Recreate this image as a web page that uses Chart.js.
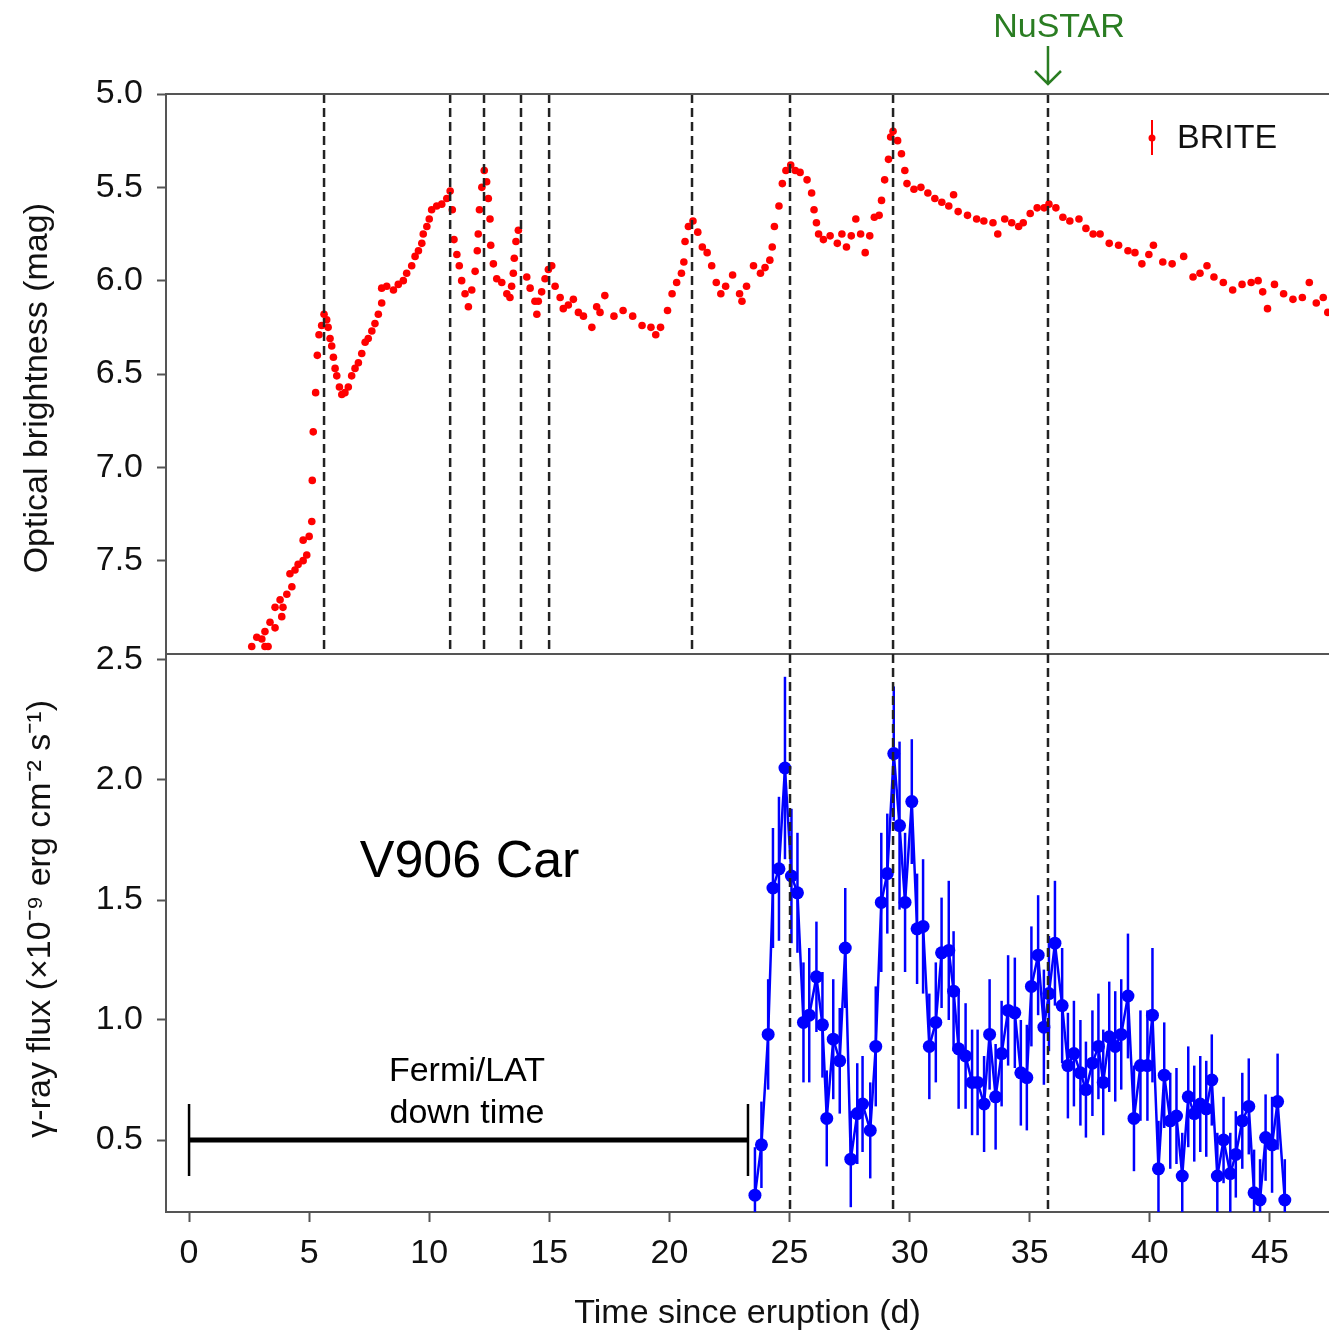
<!DOCTYPE html>
<html>
<head>
<meta charset="utf-8">
<script src="https://cdn.jsdelivr.net/npm/chart.js@4.4.1/dist/chart.umd.min.js"></script>
<style>
  html, body { margin: 0; padding: 0; background: #fff; }
  #wrap { position: relative; width: 1329px; height: 1331px; overflow: hidden; }
  canvas { position: absolute; left: 0; }
  #optical { top: 0; }
  #gamma { top: 600px; }
</style>
</head>
<body>
<div id="wrap">
  <canvas id="optical" width="1329" height="700"></canvas>
  <canvas id="gamma" width="1329" height="731"></canvas>
</div>
<script>
// BRITE optical light curve (days since eruption, magnitude)
const briteDays = [2.61,2.82,3.03,3.16,3.16,3.29,3.37,3.58,3.58,3.79,
  3.86,3.91,4.07,4.20,4.28,4.41,4.54,4.75,4.90,4.75,
  5.00,5.11,5.13,5.17,5.27,5.34,5.41,5.52,5.62,5.73,
  5.79,5.87,5.94,6.01,6.08,6.15,6.26,6.36,6.49,6.63,
  6.77,6.91,7.05,7.19,7.33,7.46,7.61,7.74,7.88,8.02,
  8.02,8.23,8.51,8.71,8.92,9.06,9.27,9.41,9.55,9.69,
  9.75,9.90,10.00,10.10,10.31,10.52,10.73,10.87,10.96,11.03,
  11.15,11.25,11.35,11.49,11.63,11.77,11.91,12.00,12.04,12.09,
  12.19,12.29,12.39,12.46,12.53,12.56,12.67,12.81,13.02,13.23,
  13.36,13.43,13.50,13.54,13.61,13.71,14.06,14.20,14.40,14.48,
  14.54,14.68,14.82,14.96,15.10,15.24,15.45,15.58,15.79,16.00,
  16.21,16.42,16.77,16.97,17.11,17.31,17.69,18.07,18.47,18.86,
  19.23,19.43,19.63,19.92,20.11,20.30,20.50,20.60,20.65,20.79,
  20.98,21.18,21.37,21.57,21.76,21.95,22.14,22.34,22.63,22.92,
  23.02,23.21,23.50,23.79,23.98,24.18,24.28,24.37,24.56,24.70,
  24.85,25.05,25.24,25.44,25.73,25.92,26.02,26.12,26.21,26.41,
  26.69,26.99,27.18,27.37,27.57,27.76,27.96,28.15,28.34,28.53,
  28.73,28.83,28.96,29.12,29.21,29.31,29.50,29.66,29.80,29.89,
  30.18,30.47,30.76,31.05,31.34,31.63,31.83,32.02,32.41,32.79,
  33.09,33.47,33.67,33.96,34.25,34.54,34.73,35.02,35.31,35.60,
  35.80,36.09,36.38,36.67,37.05,37.34,37.64,37.93,38.31,38.70,
  39.09,39.38,39.67,39.96,40.15,40.54,40.93,41.41,41.80,42.09,
  42.38,42.67,43.06,43.45,43.84,44.22,44.51,44.70,44.90,45.19,
  45.57,45.96,46.35,46.64,46.93,47.22,47.41];
const briteMag = [7.96,7.91,7.92,7.96,7.88,7.96,7.83,7.86,7.75,7.71,
  7.80,7.75,7.68,7.57,7.64,7.55,7.52,7.50,7.47,7.39,
  7.37,7.29,7.07,6.81,6.60,6.40,6.29,6.24,6.18,6.21,
  6.25,6.31,6.35,6.41,6.47,6.51,6.57,6.61,6.60,6.57,
  6.51,6.47,6.44,6.39,6.33,6.31,6.27,6.23,6.18,6.12,
  6.04,6.03,6.05,6.02,6.00,5.96,5.92,5.87,5.84,5.80,
  5.75,5.71,5.67,5.62,5.60,5.59,5.56,5.52,5.62,5.78,
  5.86,5.92,6.00,6.07,6.14,6.05,5.95,5.84,5.75,5.62,
  5.50,5.41,5.47,5.56,5.67,5.81,5.91,5.99,6.01,6.07,
  6.09,6.03,5.96,5.88,5.79,5.73,5.98,6.04,6.11,6.18,
  6.11,6.06,5.99,5.94,5.92,6.03,6.09,6.15,6.13,6.10,
  6.17,6.19,6.25,6.14,6.17,6.08,6.19,6.16,6.19,6.24,
  6.25,6.29,6.25,6.16,6.07,6.01,5.96,5.90,5.79,5.71,
  5.68,5.74,5.82,5.85,5.92,6.01,6.07,6.03,5.97,6.07,
  6.11,6.03,5.92,5.96,5.93,5.89,5.82,5.71,5.60,5.48,
  5.41,5.38,5.41,5.42,5.46,5.53,5.62,5.69,5.75,5.78,
  5.76,5.80,5.75,5.82,5.76,5.67,5.75,5.85,5.76,5.66,
  5.65,5.57,5.46,5.35,5.23,5.20,5.25,5.32,5.41,5.48,
  5.51,5.50,5.53,5.56,5.58,5.60,5.54,5.63,5.65,5.67,
  5.68,5.69,5.75,5.67,5.69,5.71,5.69,5.64,5.61,5.61,
  5.59,5.61,5.66,5.68,5.67,5.72,5.75,5.75,5.80,5.81,
  5.84,5.85,5.91,5.86,5.81,5.90,5.91,5.87,5.98,5.96,
  5.92,5.98,6.01,6.05,6.02,6.01,6.00,6.06,6.15,6.02,
  6.07,6.10,6.09,6.01,6.12,6.09,6.17];

// Fermi/LAT gamma-ray flux (x1e-9 erg cm-2 s-1) with 1-sigma errors
const latDays = [23.56,23.83,24.11,24.31,24.56,24.81,25.08,25.33,25.58,25.82,
  26.12,26.37,26.55,26.82,27.09,27.32,27.55,27.82,28.04,28.36,
  28.59,28.82,29.07,29.34,29.58,29.81,30.09,30.31,30.56,30.82,
  31.09,31.33,31.63,31.83,32.04,32.33,32.60,32.83,33.10,33.33,
  33.58,33.83,34.10,34.38,34.63,34.88,35.07,35.35,35.59,35.80,
  36.05,36.35,36.59,36.84,37.11,37.34,37.61,37.86,38.06,38.31,
  38.56,38.81,39.09,39.34,39.61,39.90,40.11,40.36,40.60,40.85,
  41.11,41.35,41.60,41.85,42.10,42.35,42.58,42.81,43.07,43.35,
  43.58,43.85,44.12,44.34,44.59,44.82,45.09,45.32,45.62];
const latFlux = [0.27,0.48,0.94,1.55,1.63,2.05,1.60,1.53,0.99,1.02,
  1.18,0.98,0.59,0.92,0.83,1.30,0.42,0.61,0.65,0.54,
  0.89,1.49,1.61,2.11,1.81,1.49,1.91,1.38,1.39,0.89,
  0.99,1.28,1.29,1.12,0.88,0.85,0.74,0.74,0.65,0.94,
  0.68,0.86,1.04,1.03,0.78,0.76,1.14,1.27,0.97,1.11,
  1.32,1.06,0.81,0.86,0.78,0.71,0.82,0.89,0.74,0.93,
  0.89,0.94,1.10,0.59,0.81,0.81,1.02,0.38,0.77,0.58,
  0.60,0.35,0.68,0.61,0.65,0.63,0.75,0.35,0.50,0.36,
  0.44,0.58,0.64,0.28,0.25,0.51,0.48,0.66,0.25];
const latErr = [0.20,0.18,0.23,0.25,0.30,0.38,0.28,0.25,0.25,0.28,
  0.23,0.22,0.20,0.25,0.22,0.25,0.20,0.21,0.20,0.20,
  0.25,0.29,0.25,0.28,0.35,0.29,0.26,0.23,0.28,0.22,
  0.25,0.23,0.29,0.25,0.25,0.22,0.22,0.22,0.20,0.23,
  0.22,0.22,0.23,0.23,0.22,0.22,0.25,0.25,0.24,0.24,
  0.26,0.24,0.22,0.22,0.22,0.20,0.22,0.22,0.22,0.23,
  0.23,0.23,0.26,0.22,0.23,0.23,0.28,0.20,0.22,0.20,
  0.20,0.18,0.21,0.20,0.20,0.20,0.19,0.18,0.18,0.17,
  0.18,0.20,0.20,0.18,0.17,0.18,0.20,0.20,0.17];

// optical flare peaks (dashed lines), NuSTAR epoch, LAT down time
const opticalFlareDays = [5.62, 10.87, 12.28, 13.82, 14.99, 20.94, 25.02, 29.31, 35.76];
const gammaFlareDays = [25.02, 29.31, 35.76];
const nustarDay = 35.76;
const downtimeDays = [0, 23.27];
const downtimeFlux = 0.5;

// axes
const xTicks = [0, 5, 10, 15, 20, 25, 30, 35, 40, 45];
const magTicks = [5.0, 5.5, 6.0, 6.5, 7.0, 7.5];
const fluxTicks = [0.5, 1.0, 1.5, 2.0, 2.5];
const xRange = [-0.96, 47.46];
const magRange = [5.0, 8.0];
const fluxRange = [0.2, 2.525];

Chart.defaults.font.family = "'Liberation Sans', Arial, Helvetica, sans-serif";
Chart.defaults.color = '#111';

const axisGrey = '#555';
const txt = '#111';

function yAxis(extra) {
  return Object.assign({
    type: 'linear',
    position: 'left',
    afterFit: s => { s.width = 166; s.paddingTop = 0; s.paddingBottom = 0; },
    ticks: { font: { size: 34 }, color: txt, padding: 14, callback: v => Number(v).toFixed(1) },
    grid: { drawOnChartArea: false, drawTicks: true, tickLength: 9, tickColor: axisGrey, tickWidth: 2 },
    border: { display: true, color: axisGrey, width: 2 }
  }, extra);
}

// dashed lines marking optical flares
const flareLines = {
  id: 'flareLines',
  afterDatasetsDraw(chart, args, opts) {
    const { ctx, chartArea: a, scales: { x } } = chart;
    ctx.save();
    ctx.strokeStyle = '#222';
    ctx.lineWidth = 2.5;
    ctx.setLineDash([9, 5]);
    (opts.days || []).forEach(d => {
      const px = x.getPixelForValue(d);
      ctx.beginPath();
      ctx.moveTo(px, a.top);
      ctx.lineTo(px, a.bottom);
      ctx.stroke();
    });
    ctx.restore();
  }
};

// top panel: frame, legend, NuSTAR marker
const opticalExtras = {
  id: 'opticalExtras',
  afterDraw(chart) {
    const { ctx, chartArea: a, scales: { x } } = chart;
    ctx.save();
    ctx.strokeStyle = axisGrey;
    ctx.lineWidth = 2;
    ctx.beginPath();
    ctx.moveTo(a.left - 1, a.top); ctx.lineTo(a.right, a.top);
    ctx.moveTo(a.left - 1, a.bottom); ctx.lineTo(a.right, a.bottom);
    ctx.stroke();

    // legend
    ctx.strokeStyle = '#ff0000';
    ctx.fillStyle = '#ff0000';
    ctx.lineWidth = 2;
    ctx.beginPath();
    ctx.moveTo(1152, 120); ctx.lineTo(1152, 155);
    ctx.stroke();
    ctx.beginPath();
    ctx.arc(1152, 138, 3.5, 0, Math.PI * 2);
    ctx.fill();
    ctx.fillStyle = txt;
    ctx.font = "34px 'Liberation Sans', Arial, sans-serif";
    ctx.textAlign = 'left';
    ctx.textBaseline = 'middle';
    ctx.fillText('BRITE', 1177, 139);

    // NuSTAR
    const nx = x.getPixelForValue(nustarDay);
    const green = '#2a7d22';
    ctx.fillStyle = green;
    ctx.strokeStyle = green;
    ctx.textAlign = 'center';
    ctx.fillText('NuSTAR', nx + 11, 28);
    ctx.lineWidth = 2.5;
    ctx.beginPath();
    ctx.moveTo(nx, 46); ctx.lineTo(nx, 84);
    ctx.moveTo(nx - 13, 71); ctx.lineTo(nx, 84); ctx.lineTo(nx + 13, 71);
    ctx.stroke();
    ctx.restore();
  }
};

// bottom panel: error bars and labels
const gammaExtras = {
  id: 'gammaExtras',
  beforeDatasetsDraw(chart) {
    const { ctx, chartArea: a, scales: { x, y } } = chart;
    ctx.save();
    ctx.beginPath();
    ctx.rect(a.left, a.top, a.right - a.left, a.bottom - a.top);
    ctx.clip();
    ctx.strokeStyle = '#0000ff';
    ctx.lineWidth = 2.5;
    latDays.forEach((d, i) => {
      const px = x.getPixelForValue(d);
      ctx.beginPath();
      ctx.moveTo(px, y.getPixelForValue(latFlux[i] + latErr[i]));
      ctx.lineTo(px, y.getPixelForValue(latFlux[i] - latErr[i]));
      ctx.stroke();
    });
    ctx.restore();
  },
  afterDraw(chart) {
    const { ctx, scales: { x, y } } = chart;
    ctx.save();
    ctx.fillStyle = '#000';
    ctx.textAlign = 'center';
    ctx.textBaseline = 'middle';
    ctx.font = "52px 'Liberation Sans', Arial, sans-serif";
    ctx.fillText('V906 Car', x.getPixelForValue(11.68), y.getPixelForValue(1.654));
    ctx.font = "34px 'Liberation Sans', Arial, sans-serif";
    ctx.fillText('Fermi/LAT', x.getPixelForValue(11.57), y.getPixelForValue(0.783));
    ctx.fillText('down time', x.getPixelForValue(11.57), y.getPixelForValue(0.608));
    ctx.restore();
  }
};

new Chart(document.getElementById('optical'), {
  type: 'scatter',
  data: {
    datasets: [{
      label: 'BRITE',
      data: briteDays.map((d, i) => ({ x: d, y: briteMag[i] })),
      pointRadius: 3.8,
      pointBackgroundColor: '#ff0000',
      pointBorderWidth: 0
    }]
  },
  options: {
    responsive: false,
    animation: false,
    devicePixelRatio: 1,
    layout: { autoPadding: false, padding: { top: 94, bottom: 46, left: 0, right: 0 } },
    plugins: { legend: { display: false }, tooltip: { enabled: false }, flareLines: { days: opticalFlareDays } },
    scales: {
      x: { type: 'linear', display: false, min: xRange[0], max: xRange[1] },
      y: yAxis({
        reverse: true, min: magRange[0], max: magRange[1],
        afterBuildTicks: s => { s.ticks = magTicks.map(v => ({ value: v })); },
        title: { display: true, text: 'Optical brightness (mag)   ', font: { size: 34 }, color: txt, padding: { top: 17, bottom: 0 } }
      })
    }
  },
  plugins: [flareLines, opticalExtras]
});

new Chart(document.getElementById('gamma'), {
  type: 'line',
  data: {
    datasets: [{
      label: 'Fermi/LAT',
      data: latDays.map((d, i) => ({ x: d, y: latFlux[i] })),
      borderColor: '#0000ff',
      borderWidth: 2.5,
      pointRadius: 6.5,
      pointBackgroundColor: '#0000ff',
      pointBorderWidth: 0,
      tension: 0
    }, {
      label: 'down time',
      data: downtimeDays.map(d => ({ x: d, y: downtimeFlux })),
      borderColor: '#000',
      borderWidth: 5,
      pointStyle: 'line',
      pointRadius: 36,
      pointRotation: 90,
      pointBorderColor: '#000',
      pointBorderWidth: 2.5
    }]
  },
  options: {
    responsive: false,
    animation: false,
    devicePixelRatio: 1,
    layout: { autoPadding: false, padding: { top: 54, bottom: 0, left: 0, right: 0 } },
    plugins: { legend: { display: false }, tooltip: { enabled: false }, flareLines: { days: gammaFlareDays } },
    scales: {
      x: {
        type: 'linear', min: xRange[0], max: xRange[1],
        afterBuildTicks: s => { s.ticks = xTicks.map(v => ({ value: v })); },
        afterFit: s => { s.height = 119; s.paddingLeft = 0; s.paddingRight = 0; },
        ticks: { font: { size: 34 }, color: txt, padding: 11, maxRotation: 0 },
        grid: { drawOnChartArea: false, drawTicks: true, tickLength: 10, tickColor: axisGrey, tickWidth: 2 },
        border: { display: true, color: axisGrey, width: 2 },
        title: { display: true, text: 'Time since eruption (d)', font: { size: 34 }, color: txt, padding: { top: 0, bottom: -3 } }
      },
      y: yAxis({
        min: fluxRange[0], max: fluxRange[1],
        afterBuildTicks: s => { s.ticks = fluxTicks.map(v => ({ value: v })); },
        title: { display: true, text: '   \u03b3-ray flux (\u00d710\u207b\u2079 erg cm\u207b\u00b2 s\u207b\u00b9)', font: { size: 34 }, color: txt, padding: { top: 20, bottom: 0 } }
      })
    }
  },
  plugins: [flareLines, gammaExtras]
});
</script>
</body>
</html>
